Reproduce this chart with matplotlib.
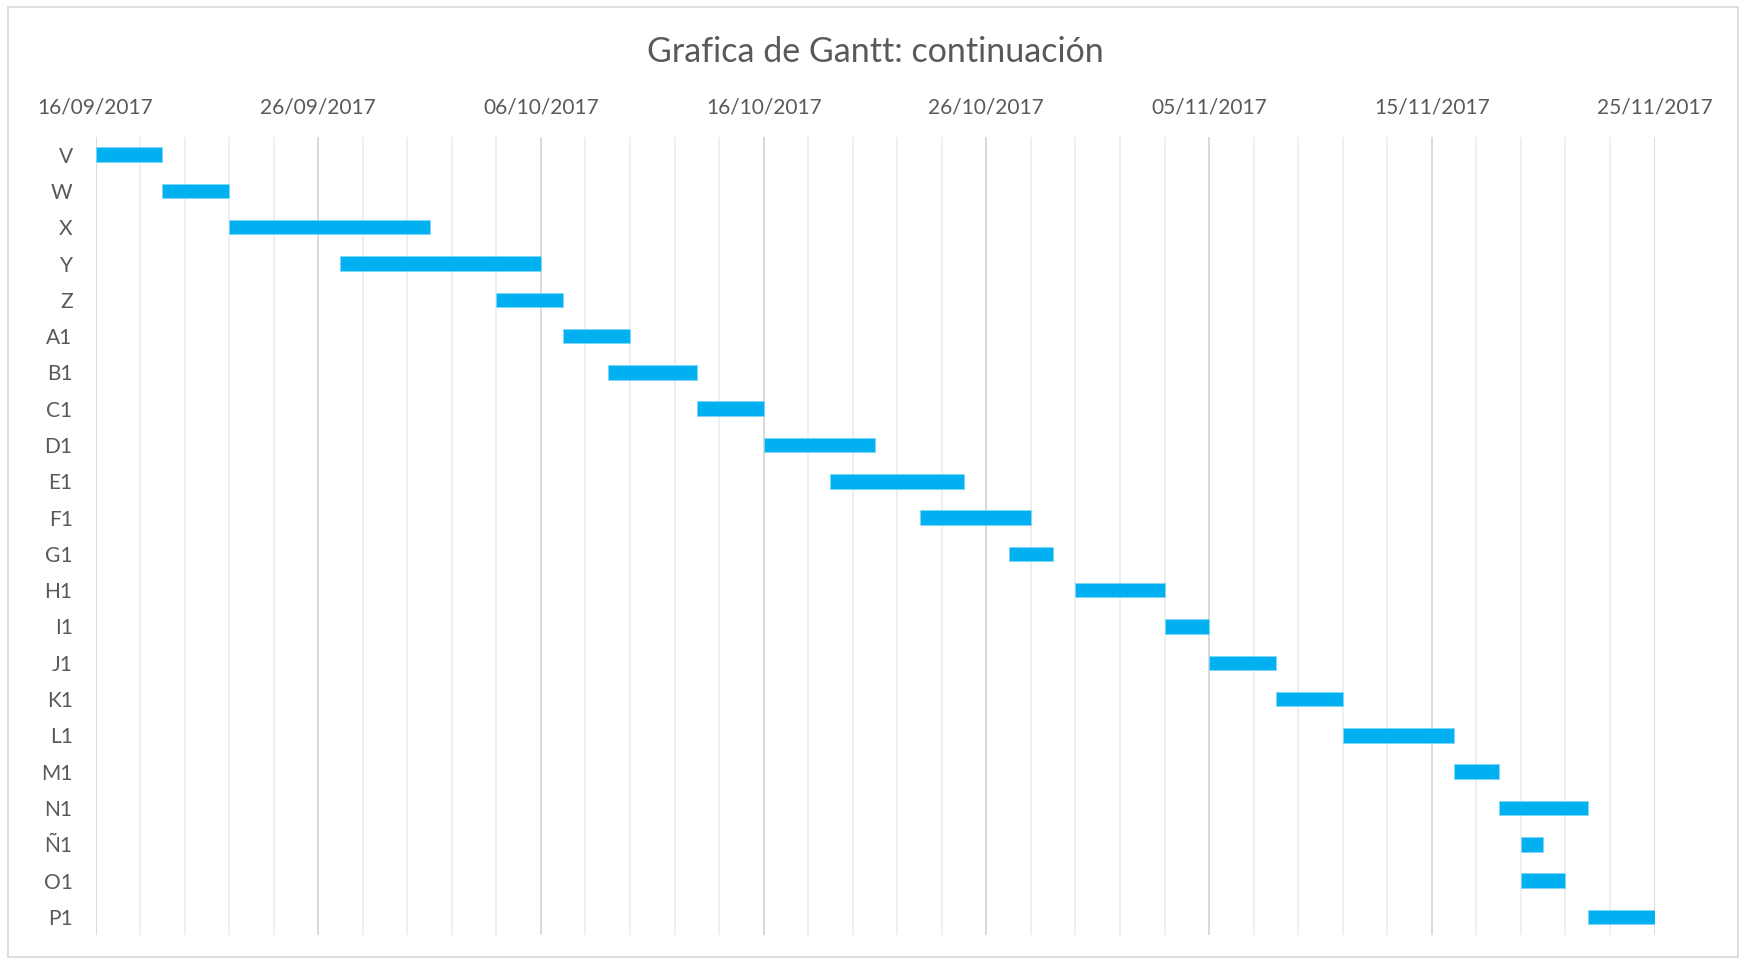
import matplotlib
matplotlib.use("Agg")
import matplotlib.pyplot as plt
import matplotlib.dates as mdates
from matplotlib.patches import Rectangle
from datetime import datetime, timedelta

tasks = ["V", "W", "X", "Y", "Z", "A1", "B1", "C1", "D1", "E1", "F1", "G1",
         "H1", "I1", "J1", "K1", "L1", "M1", "N1", "Ñ1", "O1", "P1"]
starts = ["16/09/2017", "19/09/2017", "22/09/2017", "27/09/2017", "04/10/2017",
          "07/10/2017", "09/10/2017", "13/10/2017", "16/10/2017", "19/10/2017",
          "23/10/2017", "27/10/2017", "30/10/2017", "03/11/2017", "05/11/2017",
          "08/11/2017", "11/11/2017", "16/11/2017", "18/11/2017", "19/11/2017",
          "19/11/2017", "22/11/2017"]
durations = [3, 3, 9, 9, 3, 3, 4, 3, 5, 6, 5, 2, 4, 2, 3, 3, 5, 2, 4, 1, 2, 3]
major_ticks = ["16/09/2017", "26/09/2017", "06/10/2017", "16/10/2017",
               "26/10/2017", "05/11/2017", "15/11/2017", "25/11/2017"]
title = "Grafica de Gantt: continuación"

W, H = 1741, 961
fig = plt.figure(figsize=(W / 100, H / 100), dpi=100)
plt.rcParams['font.family'] = ['Lato', 'DejaVu Sans']

left, right, top, bottom = 95.5, 1654.5, 136.5, 935
ax = fig.add_axes([left / W, 1 - bottom / H, (right - left) / W, (bottom - top) / H])

def d(s):
    return datetime.strptime(s, "%d/%m/%Y")

start_nums = [mdates.date2num(d(s)) for s in starts]
ypos = list(range(len(tasks)))
ax.barh(ypos, durations, left=start_nums, height=0.4, color="#00B0F0",
        edgecolor="#7fd7f7", linewidth=0.6, zorder=3)

x0 = mdates.date2num(d(major_ticks[0]))
x1 = mdates.date2num(d(major_ticks[-1]))
ax.set_xlim(x0, x1)
ax.set_ylim(len(tasks) - 0.5, -0.5)

major = [mdates.date2num(d(s)) for s in major_ticks]
ax.set_xticks(major)
ax.set_xticklabels(major_ticks)
minor = [x0 + k for k in range(0, int(x1 - x0) + 1, 2)]
ax.set_xticks(minor, minor=True)
ax.xaxis.tick_top()
ax.tick_params(axis="x", which="both", length=0, pad=14, labelsize=15, labelcolor="#595959")
ax.set_yticks(ypos)
ax.set_yticklabels(tasks)
ax.tick_params(axis="y", length=0, pad=16.5, labelsize=15, labelcolor="#595959")

ax.grid(axis="x", which="major", color="#d9d9d9", linewidth=1.4, zorder=0)
ax.grid(axis="x", which="minor", color="#efefef", linewidth=1.4, zorder=0)
ax.grid(axis="y", visible=False)
for s in ax.spines.values():
    s.set_visible(False)
ax.set_axisbelow(True)

fig.text(0.5 * (left + right) / W, 1 - 52 / H, title, ha="center", va="center",
         fontsize=24.5, color="#595959")

fig.patches.append(Rectangle((8 / W, 1 - 957 / H), (1738 - 8) / W, (957 - 7) / H,
                             transform=fig.transFigure, fill=False,
                             edgecolor="#d9d9d9", linewidth=1.2))

fig.savefig("out.png", dpi=100, facecolor="white")
